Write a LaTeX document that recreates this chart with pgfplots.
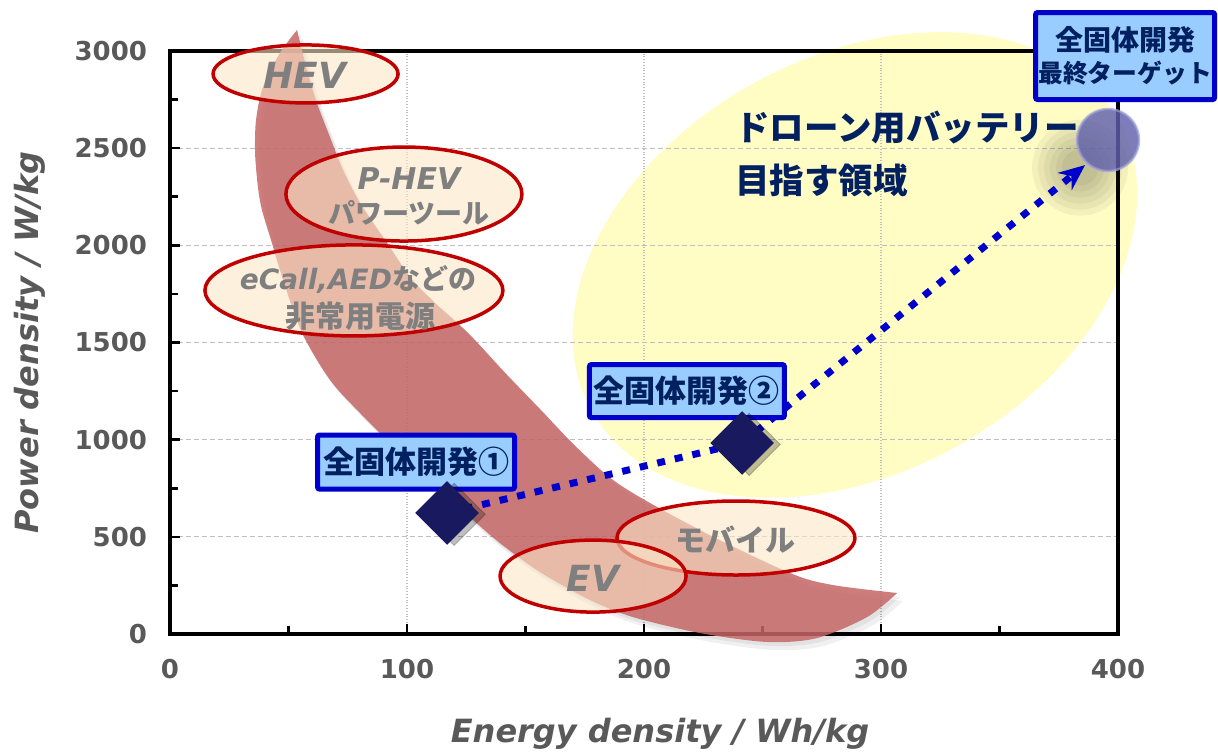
\documentclass[border=0pt]{standalone}
\usepackage{pgfplots}
\pgfplotsset{compat=1.18}
\usepackage{fontspec}
\setmainfont{DejaVu Sans}
\newfontfamily\jp{Noto Sans CJK JP}
\usetikzlibrary{arrows.meta,shapes.geometric}

\definecolor{tickgray}{RGB}{89,89,89}
\definecolor{labgray}{RGB}{127,127,127}
\definecolor{navy}{RGB}{0,32,96}
\definecolor{boxblue}{RGB}{0,0,204}
\definecolor{boxfill}{RGB}{153,204,255}
\definecolor{ringred}{RGB}{192,0,0}
\definecolor{cream}{RGB}{252,232,200}
\definecolor{band}{RGB}{198,102,102}
\definecolor{zone}{RGB}{255,252,196}
\definecolor{gem}{RGB}{25,25,95}
\definecolor{lineblue}{RGB}{0,0,204}
\definecolor{orb}{RGB}{96,96,172}
\definecolor{orbrim}{RGB}{160,160,220}

\newcommand\fs[1]{\fontsize{#1}{#1}\selectfont}

% outline of the battery-application band (outer edge, then inner edge back)
\newcommand\bandpath{plot[smooth, tension=0.5] coordinates {(53.6,3108) (46.4,2990) (39.2,2815) (36.3,2645) (35.9,2475) (37.1,2300) (38.8,2182) (43.0,2012) (47.7,1822) (55.7,1549) (67.5,1307) (80.2,1137) (92.8,983) (107.6,803) (124.5,623) (139.2,468) (156.1,319) (177.2,175) (195.4,87) (223.6,5) (251.9,-41) (273,-21) (294.1,87) (306.8,211)}
 -- plot[smooth, tension=0.5] coordinates {(306.8,211) (279.7,252) (261.6,314) (223.6,535) (189.9,767) (171.5,962) (156.5,1153) (141.5,1343) (125.8,1549) (111.5,1708) (101.3,1837) (91.6,2012) (80.2,2218) (73,2388) (67.5,2557) (62,2732) (57.8,2902) (53.6,3108)} -- cycle}

\tikzset{
  ring/.style={draw=ringred, line width=1.75pt, fill=cream, fill opacity=0.6},
  ringtext/.style={text=labgray, align=center, inner sep=0pt},
  tag/.style={draw=boxblue, line width=2.5pt, fill=boxfill, text=navy,
    inner sep=0pt, rounded corners=1pt, align=center},
}

\begin{document}
\begin{tikzpicture}
\begin{axis}[
  name=ax,
  set layers,
  scale only axis,
  width=474pt, height=291.5pt,
  xmin=0, xmax=400, ymin=0, ymax=3000,
  xtick={0,100,200,300,400},
  ytick={0,500,1000,1500,2000,2500,3000},
  minor tick num=1,
  tick pos=left,
  tick align=inside,
  major tick length=5pt, minor tick length=4pt,
  every tick/.style={black, line width=1.3pt},
  axis line style={black, line width=1.6pt},
  xmajorgrids, ymajorgrids,
  x grid style={densely dotted, line width=0.6pt, black!25},
  y grid style={dash pattern=on 2.5pt off 1.5pt, line width=0.6pt, black!25},
  /pgf/number format/assume math mode=true,
  /pgf/number format/1000 sep={},
  tick label style={font=\bfseries\fs{13}, text=tickgray},
  yticklabel style={xshift=-8pt},
  xticklabel style={yshift=-9pt},
  xlabel={Energy density / Wh/kg},
  ylabel={Power density / W/kg},
  label style={font=\bfseries\itshape\fs{16}, text=tickgray},
  xlabel style={at={(axis description cs:0.517,-0.1715)}, anchor=center},
  ylabel style={at={(axis description cs:-0.148,0.5)}, anchor=center},
  clip=false,
]

% target region for drone batteries
\begin{pgfonlayer}{axis background}
\node[ellipse, fill=zone, draw=none, minimum width=301pt, minimum height=208pt,
      inner sep=0pt, rotate=28.7] at (axis cs:289,1899) {};
\end{pgfonlayer}

% application band with a soft shadow
\fill[black, opacity=0.06, xshift=1.5pt, yshift=-2pt] \bandpath;
\fill[black, opacity=0.06, xshift=3pt, yshift=-4pt] \bandpath;
\fill[band, opacity=0.85] \bandpath;

% application ellipses
\draw[ring] (axis cs:57.2,2882) ellipse [x radius=46.25pt, y radius=14.5pt];
\node[ringtext, font=\bfseries\itshape\fs{18}] at (axis cs:57.0,2877) {HEV};

\draw[ring] (axis cs:98.7,2264) ellipse [x radius=59pt, y radius=23.5pt];
\node[ringtext, font=\bfseries\itshape\fs{15}] at (axis cs:100.8,2346) {P-HEV};
\node[ringtext, font=\jp\bfseries\fs{13.5}] at (axis cs:100.8,2166) {パワーツール};

\draw[ring] (axis cs:77.6,1768) ellipse [x radius=74.5pt, y radius=22.75pt];
\node[ringtext] at (axis cs:79.3,1822) {{\bfseries\itshape\fs{14}eCall,AED}{\jp\bfseries\fs{14}などの}};
\node[ringtext, font=\jp\bfseries\fs{15}] at (axis cs:80.2,1636) {非常用電源};

\draw[ring] (axis cs:238.8,494) ellipse [x radius=59.5pt, y radius=18.5pt];
\node[ringtext, font=\jp\bfseries\fs{15}] at (axis cs:238.4,484) {モバイル};

\draw[ring] (axis cs:178.5,298) ellipse [x radius=46.5pt, y radius=18pt];
\node[ringtext, font=\bfseries\itshape\fs{18}] at (axis cs:178.5,288) {EV};

% glow behind the final target
\fill[black!70!olive, opacity=0.06] (axis cs:384,2400) circle [radius=24pt];
\fill[black!70!olive, opacity=0.06] (axis cs:384,2400) circle [radius=21pt];
\fill[black!70!olive, opacity=0.06] (axis cs:384,2400) circle [radius=18pt];
\fill[black!70!olive, opacity=0.06] (axis cs:384,2400) circle [radius=15pt];
\fill[black!70!olive, opacity=0.06] (axis cs:384,2400) circle [radius=12pt];
\fill[black!70!olive, opacity=0.06] (axis cs:384,2400) circle [radius=9pt];

% development path
\addplot[lineblue, line width=3.5pt, dash pattern=on 4pt off 5pt] coordinates {(116.9,623) (241.4,983)};
\addplot[lineblue, line width=3.5pt, dash pattern=on 4pt off 5pt,
  -{Stealth[length=13pt, width=11pt]}] coordinates {(241.4,983) (386.1,2413)};

% development stages
\addplot[only marks, mark=square*, mark size=11pt,
  mark options={rotate=45, fill=black, draw=none, opacity=0.25, xshift=2pt, yshift=-3pt}]
  coordinates {(116.9,623) (241.4,983)};
\addplot[only marks, mark=square*, mark size=11pt,
  mark options={rotate=45, fill=gem, draw=gem, line width=0.5pt}]
  coordinates {(116.9,623) (241.4,983)};

% final target: translucent sphere with a light rim
\addplot[only marks, mark=*, mark size=15.5pt,
  mark options={fill=orb, draw=orbrim, line width=1.2pt, fill opacity=0.82, draw opacity=0.7}]
  coordinates {(395.8,2542)};

% region caption
\node[anchor=west, text=navy, font=\jp\bfseries\fs{17.25}, inner sep=0pt] at (axis cs:238.4,2604) {ドローン用バッテリー};
\node[anchor=west, text=navy, font=\jp\bfseries\fs{17.25}, inner sep=0pt] at (axis cs:238.4,2336) {目指す領域};

% stage tags
\node[tag, minimum width=98.5pt, minimum height=27pt, font=\jp\bfseries\fs{15.5}]
  at (axis cs:103.8,885) {全固体開発①};
\node[tag, minimum width=97.5pt, minimum height=26.5pt, font=\jp\bfseries\fs{15.5}]
  at (axis cs:218.1,1250) {全固体開発②};
\node[tag, minimum width=89.5pt, minimum height=43.5pt, font=\jp\bfseries]
  at (axis cs:403,2974) {{\fs{14}全固体開発}\\[3pt]{\fs{12.4}最終ターゲット}};

\end{axis}
\pgfresetboundingbox
\path ([shift={(-85pt,-58.5pt)}]ax.south west) rectangle ([shift={(524pt,317pt)}]ax.south west);
\end{tikzpicture}
\end{document}
